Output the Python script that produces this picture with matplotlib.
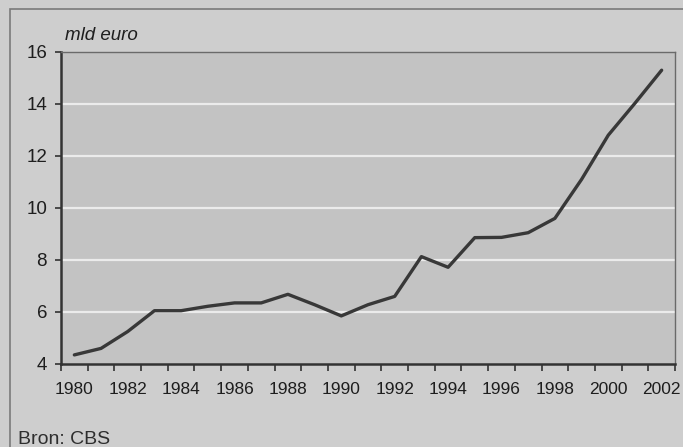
import matplotlib.pyplot as plt
from matplotlib.patches import Rectangle

# data (mld euro)
years = list(range(1980, 2003))
values = [4.35, 4.6, 5.25, 6.05, 6.05, 6.22, 6.35, 6.35, 6.68, 6.28, 5.85,
          6.28, 6.6, 8.13, 7.72, 8.86, 8.87, 9.05, 9.6, 11.1, 12.8, 14.03, 15.3]
yticks = [4, 6, 8, 10, 12, 14, 16]
unit_label = 'mld euro'
source_label = 'Bron: CBS'

plt.rcParams['font.family'] = ['Liberation Sans', 'DejaVu Sans']

fig = plt.figure(figsize=(6.83, 4.47), dpi=100)
fig.patch.set_facecolor('#cecece')

# outer frame of the scanned chart
fig.patches.append(Rectangle((10 / 683, -0.05), 1.0, 1 - 9 / 447 + 0.05,
                             transform=fig.transFigure, fill=False,
                             edgecolor='#7a7a7a', linewidth=1.2))

ax = fig.add_axes([61 / 683, 1 - 364 / 447, 614 / 683, 312 / 447])
ax.set_facecolor('#c3c3c3')

x = list(range(len(years)))
ax.plot(x, values, color='#383838', linewidth=2.4, solid_capstyle='round',
        solid_joinstyle='round', zorder=3)

ax.set_xlim(-0.5, len(years) - 0.5)
ax.set_ylim(yticks[0], yticks[-1])

# white horizontal gridlines
for v in yticks[1:-1]:
    ax.axhline(v, color='#ebebeb', linewidth=1.6, zorder=1)

ax.set_yticks(yticks)
ax.set_yticklabels([str(v) for v in yticks], fontsize=13.5, color='#1e1e1e')
ax.tick_params(axis='y', length=4, width=1.2, pad=6, color='#333333')

# year labels every two years, tick marks on category boundaries
ax.set_xticks(x[::2])
ax.set_xticklabels([str(y) for y in years[::2]], fontsize=12.5, color='#1e1e1e')
ax.set_xticks([i - 0.5 for i in range(len(years) + 1)], minor=True)
ax.tick_params(axis='x', which='major', length=0, pad=13)
ax.tick_params(axis='x', which='minor', length=5, width=1.2, color='#333333')

for side in ['left', 'bottom']:
    ax.spines[side].set_color('#333333')
    ax.spines[side].set_linewidth(1.8)
for side in ['top', 'right']:
    ax.spines[side].set_color('#6a6a6a')
    ax.spines[side].set_linewidth(1.0)

fig.text(65 / 683, 1 - 35 / 447, unit_label, fontsize=13.5, style='italic',
         color='#1e1e1e', va='center', ha='left')
fig.text(18 / 683, 1 - 440 / 447, source_label, fontsize=14,
         color='#2e2e2e', va='center', ha='left')

fig.savefig('out.png', dpi=100, facecolor=fig.get_facecolor())
